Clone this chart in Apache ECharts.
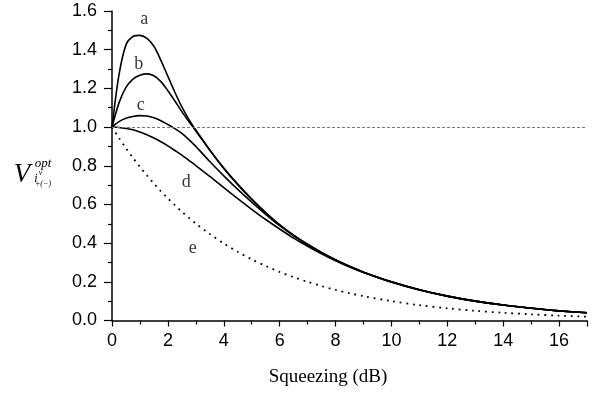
<!DOCTYPE html>
<html>
<head>
<meta charset="utf-8">
<script src="https://cdn.jsdelivr.net/npm/echarts@6/dist/echarts.min.js"></script>
<style>
html,body{margin:0;padding:0;background:#fff;}
#c{width:598px;height:393px;}
</style>
</head>
<body>
<div id="c"></div>
<script>
var xs = [0,0.25,0.5,0.75,1,1.25,1.5,1.75,2,2.25,2.5,2.75,3,3.5,4,4.5,5,5.5,6,6.5,7,7.5,8,8.5,9,10,11,12,13,14,15,16,17];
var seriesA = [1.000,1.270,1.425,1.468,1.474,1.458,1.418,1.345,1.262,1.180,1.104,1.040,0.985,0.882,0.788,0.705,0.628,0.558,0.495,0.441,0.394,0.352,0.314,0.280,0.250,0.200,0.159,0.126,0.100,0.080,0.063,0.050,0.040];
var seriesB = [1.000,1.125,1.205,1.248,1.268,1.275,1.265,1.235,1.188,1.135,1.080,1.029,0.980,0.880,0.786,0.702,0.626,0.557,0.494,0.440,0.393,0.351,0.313,0.280,0.250,0.200,0.159,0.126,0.100,0.080,0.063,0.050,0.040];
var seriesC = [1.000,1.028,1.045,1.055,1.059,1.057,1.048,1.033,1.013,0.992,0.967,0.935,0.900,0.822,0.748,0.678,0.612,0.549,0.490,0.438,0.391,0.350,0.313,0.279,0.250,0.200,0.159,0.126,0.100,0.080,0.063,0.050,0.040];
var seriesD = [1.000,0.998,0.993,0.986,0.974,0.960,0.943,0.924,0.903,0.879,0.855,0.828,0.801,0.745,0.687,0.630,0.575,0.522,0.473,0.426,0.384,0.345,0.309,0.277,0.248,0.198,0.158,0.126,0.100,0.080,0.063,0.050,0.040];
var seriesE = [1.000,0.944,0.891,0.841,0.794,0.750,0.708,0.668,0.631,0.596,0.562,0.531,0.501,0.447,0.398,0.355,0.316,0.282,0.251,0.224,0.200,0.178,0.158,0.141,0.126,0.100,0.079,0.063,0.050,0.040,0.032,0.025,0.020];
var curveNames = ['a','b','c','d','e'];
var labelX = [1.15,0.96,1.03,2.66,2.89];
var labelY = [1.555,1.326,1.113,0.716,0.372];
var refLevel = 1.0;
var xTitle = 'Squeezing (dB)';

function pairs(v){ return xs.map(function(x,i){ return [x, v[i]]; }); }

var chart = echarts.init(document.getElementById('c'), null, {renderer:'canvas'});
var solid = {color:'#000', width:1.6};
function curve(v, ls){
  return {type:'line', data:pairs(v), smooth:0.3, symbol:'none', lineStyle:ls};
}
var sA = curve(seriesA, solid);
sA.markLine = {silent:true, symbol:'none', label:{show:false},
  lineStyle:{color:'#777', type:[3,2], width:1}, data:[{yAxis:refLevel}]};
var option = {
  animation:false,
  backgroundColor:'#fff',
  grid:{left:112, right:11, top:11, bottom:72.5},
  xAxis:{
    type:'value', min:0, max:17, interval:2,
    axisLine:{lineStyle:{color:'#000', width:1.5}},
    axisTick:{length:6, lineStyle:{color:'#000', width:1.2}},
    minorTick:{show:true, splitNumber:2, length:4, lineStyle:{color:'#000', width:1.2}},
    splitLine:{show:false},
    axisLabel:{color:'#000', fontSize:18, fontFamily:'Liberation Sans', margin:12, showMaxLabel:false}
  },
  yAxis:{
    type:'value', min:0, max:1.6, interval:0.2,
    axisLine:{show:true, lineStyle:{color:'#000', width:1.5}},
    axisTick:{show:true, length:8, lineStyle:{color:'#000', width:1.2}},
    minorTick:{show:true, splitNumber:2, length:4, lineStyle:{color:'#000', width:1.2}},
    splitLine:{show:false},
    axisLabel:{color:'#000', fontSize:18, fontFamily:'Liberation Sans', margin:15,
      formatter:function(v){ return v.toFixed(1); }}
  },
  series:[
    sA,
    curve(seriesB, solid),
    curve(seriesC, solid),
    curve(seriesD, solid),
    curve(seriesE, {color:'#000', width:1.8, type:[1.8,4.8]}),
    {type:'scatter', symbolSize:0, silent:true,
     data:curveNames.map(function(n,i){ return {value:[labelX[i], labelY[i]], name:n}; }),
     label:{show:true, position:'inside', formatter:'{b}', color:'#000', fontSize:18, fontFamily:'Liberation Serif'}}
  ],
  graphic:[
    {type:'text', x:328, y:377, style:{text:xTitle, font:'19px "Liberation Serif"', fill:'#000', align:'center', verticalAlign:'middle'}},
    {type:'text', x:22, y:175, style:{text:'V', font:'italic 27px "Liberation Serif"', fill:'#000', align:'center', verticalAlign:'middle'}},
    {type:'text', x:43, y:164, style:{text:'opt', font:'italic 13px "Liberation Serif"', fill:'#000', align:'center', verticalAlign:'middle'}},
    {type:'text', x:36, y:179, style:{text:'i', font:'italic 12px "Liberation Serif"', fill:'#000', align:'center', verticalAlign:'middle'}},
    {type:'text', x:40.5, y:173, style:{text:'v', font:'italic 8px "Liberation Serif"', fill:'#000', align:'center', verticalAlign:'middle'}},
    {type:'text', x:43, y:184, style:{text:'+(\u2212)', font:'italic 8px "Liberation Serif"', fill:'#000', align:'center', verticalAlign:'middle'}}
  ]
};
chart.setOption(option);
</script>
</body>
</html>
